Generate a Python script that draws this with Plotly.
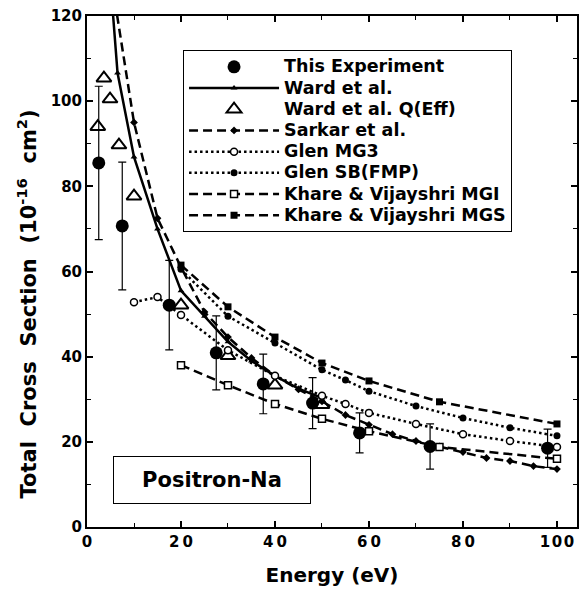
import plotly.graph_objects as go

# ---- data ----
exp_x = [2.5, 7.5, 17.5, 27.5, 37.5, 48, 58, 73, 98]
exp_y = [85.5, 70.7, 52.1, 40.9, 33.6, 29.1, 22.1, 18.9, 18.5]
exp_err = [18, 15, 10.5, 8.7, 7, 6, 4.7, 5.3, 4.5]

ward_x = [5, 6.5, 10, 15, 20, 25, 30, 35, 40, 45, 50]
ward_y = [128, 106.6, 86.9, 70, 55.5, 49.5, 43.5, 39, 35.5, 32.5, 30.3]

wardq_x = [2.3, 3.6, 4.9, 6.8, 10, 20, 30, 40, 50]
wardq_y = [94, 105.4, 100.5, 89.7, 77.7, 52.1, 40.2, 33.3, 28.7]

sarkar_x = [5, 10, 15, 20, 25, 30, 35, 40, 45, 50, 55, 60, 65, 70, 75, 80, 85, 90, 95, 100]
sarkar_y = [130, 95, 72.5, 61, 50.5, 44.6, 39.7, 35.5, 32.3, 29.5, 26.3, 24, 21.8, 20.2, 18.9, 17.6, 16.2, 15.5, 14.3, 13.6]

mg3_x = [10, 15, 20, 30, 40, 50, 55, 60, 70, 80, 90, 100]
mg3_y = [52.8, 54, 49.8, 41.5, 35.5, 30.8, 28.9, 26.8, 24.2, 21.8, 20.2, 18.8]

sb_x = [20, 30, 40, 50, 55, 60, 70, 80, 90, 100]
sb_y = [60.5, 49.5, 43.2, 36.9, 34.5, 31.9, 28.4, 25.6, 23.3, 21.4]

mgi_x = [20, 30, 40, 50, 60, 75, 100]
mgi_y = [38, 33.3, 28.9, 25.4, 22.5, 18.8, 16.0]

mgs_x = [20, 30, 40, 50, 60, 75, 100]
mgs_y = [61.5, 51.7, 44.6, 38.5, 34.3, 29.4, 24.2]

x_tickvals = [0, 20, 40, 60, 80, 100]
x_ticktext = ["0", "2\u20090", "4\u20090", "6\u20090", "8\u20090", "1\u200a0\u200a0"]
y_tickvals = [0, 20, 40, 60, 80, 100, 120]
y_ticktext = ["0", "20", "40", "60", "80", "100", "120"]

FONT = "DejaVu Sans, sans-serif"
DASH = "9px,5px"
DOT = "2.5px,3px"


def lg(name):
    return '<span style="font-size:17.5px">' + name + '</span>'


fig = go.Figure()

fig.add_trace(go.Scatter(
    x=exp_x, y=exp_y, mode="markers", name=lg("This Experiment"),
    marker=dict(symbol="circle", size=13, color="black"),
    error_y=dict(type="data", array=exp_err, color="black", thickness=1.2, width=4),
))
fig.add_trace(go.Scatter(
    x=ward_x, y=ward_y, mode="lines+markers", name=lg("Ward et al."),
    line=dict(color="black", width=2.5),
    marker=dict(symbol="triangle-up", size=6, color="black"),
))
fig.add_trace(go.Scatter(
    x=wardq_x, y=wardq_y, mode="markers", name=lg("Ward et al. Q(Eff)"),
    marker=dict(symbol="triangle-up-open", size=13, color="black", line=dict(width=2)),
))
fig.add_trace(go.Scatter(
    x=sarkar_x, y=sarkar_y, mode="lines+markers", name=lg("Sarkar et al."),
    line=dict(color="black", width=2.5, dash=DASH),
    marker=dict(symbol="diamond", size=6, color="black"),
))
fig.add_trace(go.Scatter(
    x=mg3_x, y=mg3_y, mode="lines+markers", name=lg("Glen MG3"),
    line=dict(color="black", width=2.5, dash=DOT),
    marker=dict(symbol="circle", size=7, color="white", line=dict(color="black", width=1.5)),
))
fig.add_trace(go.Scatter(
    x=sb_x, y=sb_y, mode="lines+markers", name=lg("Glen SB(FMP)"),
    line=dict(color="black", width=2.5, dash=DOT),
    marker=dict(symbol="circle", size=7, color="black"),
))
fig.add_trace(go.Scatter(
    x=mgi_x, y=mgi_y, mode="lines+markers", name=lg("Khare &amp; Vijayshri MGI"),
    line=dict(color="black", width=2.5, dash=DASH),
    marker=dict(symbol="square", size=7, color="white", line=dict(color="black", width=1.5)),
))
fig.add_trace(go.Scatter(
    x=mgs_x, y=mgs_y, mode="lines+markers", name=lg("Khare &amp; Vijayshri MGS"),
    line=dict(color="black", width=2.5, dash=DASH),
    marker=dict(symbol="square", size=7, color="black"),
))

axis_common = dict(
    showline=True, linecolor="black", linewidth=2, mirror="ticks",
    ticks="inside", ticklen=6, tickwidth=1.5, tickcolor="black",
    showgrid=False, zeroline=False, automargin=False,
    tickfont=dict(family=FONT, size=15, color="black", weight="bold"),
)

fig.update_xaxes(
    range=[0, 104.26], tickmode="array", tickvals=x_tickvals, ticktext=x_ticktext,
    minor=dict(dtick=10, ticks="inside", ticklen=4, tickwidth=1.2, tickcolor="black"),
    title=dict(text="Energy (eV)", font=dict(family=FONT, size=20, color="black", weight="bold"), standoff=18),
    **axis_common,
)
fig.update_yaxes(
    range=[0, 120], tickmode="array", tickvals=y_tickvals, ticktext=y_ticktext,
    minor=dict(dtick=10, ticks="inside", ticklen=4, tickwidth=1.2, tickcolor="black"),
    **axis_common,
)

# y-axis title (rotated text, placed lower than plot centre as in the reference)
fig.add_annotation(
    x=-0.122, y=0.436, xref="paper", yref="paper", xanchor="center", yanchor="middle",
    text="Total\u00a0\u00a0Cross\u00a0\u00a0Section\u00a0\u00a0(10<sup>-16</sup>\u00a0\u00a0cm<sup>2</sup>)",
    textangle=-90, showarrow=False,
    font=dict(family=FONT, size=21, color="black", weight="bold"),
)

fig.add_annotation(
    x=0.255, y=0.092, xref="paper", yref="paper", xanchor="center", yanchor="middle",
    text="Positron-Na", showarrow=False,
    font=dict(family=FONT, size=21, color="black", weight="bold"),
    bordercolor="black", borderwidth=1, borderpad=1, bgcolor="white",
    width=194, height=44,
)

fig.update_layout(
    width=579, height=590,
    margin=dict(l=87, r=2, t=16, b=63, autoexpand=False),
    paper_bgcolor="white", plot_bgcolor="white",
    showlegend=True,
    legend=dict(
        x=0.196, y=0.933, xanchor="left", yanchor="top",
        bgcolor="white", bordercolor="black", borderwidth=1,
        font=dict(family=FONT, size=14, color="black", weight="bold"),
        itemwidth=90, tracegroupgap=0,
    ),
)

fig.write_html(
    "out.html",
    config={"displayModeBar": False},
    post_script="document.body.style.margin='0';document.body.style.overflow='hidden';",
)
